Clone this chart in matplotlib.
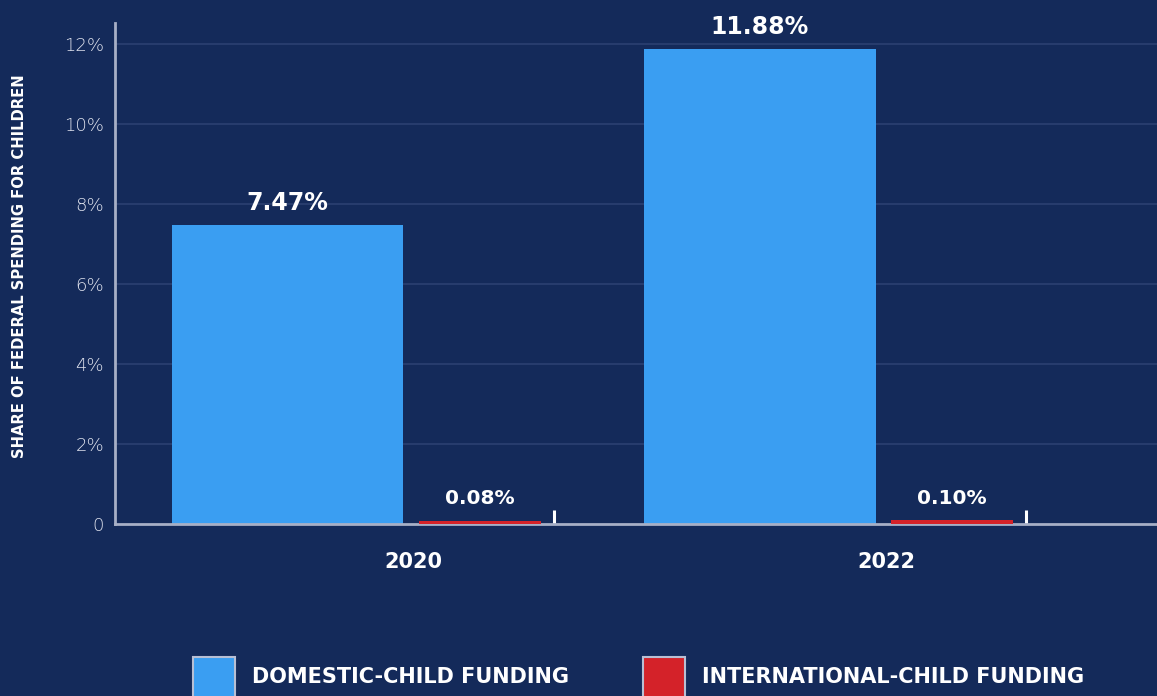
import matplotlib
matplotlib.use("Agg")
import matplotlib.pyplot as plt
from matplotlib.patches import Rectangle
import numpy as np

years = ["2020", "2022"]
domestic = [7.47, 11.88]
international = [0.08, 0.10]
series_names = ["DOMESTIC-CHILD FUNDING", "INTERNATIONAL-CHILD FUNDING"]
y_ticks = [0, 2, 4, 6, 8, 10, 12]
y_tick_labels = ["0", "2%", "4%", "6%", "8%", "10%", "12%"]
y_title = "SHARE OF FEDERAL SPENDING FOR CHILDREN"

BG = "#142a5a"
BLUE = "#3a9ef2"
RED = "#d42229"
GRID = "#2a3f70"
SPINE = "#a7afc6"
TEXT = "#ffffff"
TICKTXT = "#e0e3ee"
EDGE = "#b8bfd4"

plt.rcParams['font.family'] = ['DejaVu Sans']

W, H = 1157, 696
fig = plt.figure(figsize=(W / 100, H / 100), dpi=100, facecolor=BG)
ax = fig.add_axes([115 / W, (H - 524) / H, 1 - 115 / W, 501 / H])
ax.set_facecolor(BG)

x = np.arange(len(years))
blue_off, blue_w = -0.267, 0.49
red_off, red_w = 0.14, 0.258
tick_off = 0.296

b1 = ax.bar(x + blue_off, domestic, width=blue_w, color=BLUE, zorder=3)
b2 = ax.bar(x + red_off, international, width=red_w, color=RED, zorder=5)

for rect, v in zip(b1, domestic):
    ax.annotate(f"{v:.2f}%", (rect.get_x() + rect.get_width() / 2, v),
                xytext=(0, 7), textcoords="offset points", ha="center", va="bottom",
                color=TEXT, fontsize=17, fontweight="bold", zorder=6)
for rect, v in zip(b2, international):
    ax.annotate(f"{v:.2f}%", (rect.get_x() + rect.get_width() / 2, v),
                xytext=(0, 9), textcoords="offset points", ha="center", va="bottom",
                color=TEXT, fontsize=14.5, fontweight="bold", zorder=6)

ax.set_xlim(-0.633, 1.574)
ax.set_ylim(0, 12.525)

ax.set_yticks(y_ticks)
ax.set_yticklabels(y_tick_labels, fontweight="light")
ax.tick_params(axis="y", length=0, pad=8, labelsize=13, labelcolor=TICKTXT)
for yv in y_ticks[1:]:
    ax.axhline(yv, color=GRID, lw=1.3, zorder=1)

ax.set_xticks(x)
ax.set_xticklabels(years, fontweight="bold")
ax.tick_params(axis="x", which="major", length=0, pad=20, labelsize=15, labelcolor=TEXT)
ax.set_xticks(x + tick_off, minor=True)
ax.tick_params(axis="x", which="minor", direction="in", length=10, width=2.2, color=TEXT)

for s in ["top", "right"]:
    ax.spines[s].set_visible(False)
ax.spines["left"].set_color(SPINE)
ax.spines["left"].set_linewidth(2)
ax.spines["bottom"].set_color(SPINE)
ax.spines["bottom"].set_linewidth(2)
ax.spines["bottom"].set_zorder(4)

ax.set_ylabel(y_title, color=TEXT, fontsize=10.6, fontweight="bold")
ax.yaxis.set_label_coords((27 - 115) / (W - 115), 0.515)

# legend (manual, squares run off the bottom edge as in the reference)
legend_colors = [BLUE, RED]
sq_left = [193, 643]
for xl, col, name in zip(sq_left, legend_colors, series_names):
    fig.add_artist(Rectangle((xl / W, (H - 700) / H), 42 / W, 43 / H,
                             transform=fig.transFigure, facecolor=col,
                             edgecolor=EDGE, lw=1.5))
    fig.text((xl + 59) / W, (H - 677) / H, name, color=TEXT, fontsize=15,
             fontweight="bold", ha="left", va="center")

fig.savefig("out.png", dpi=100, facecolor=BG)
